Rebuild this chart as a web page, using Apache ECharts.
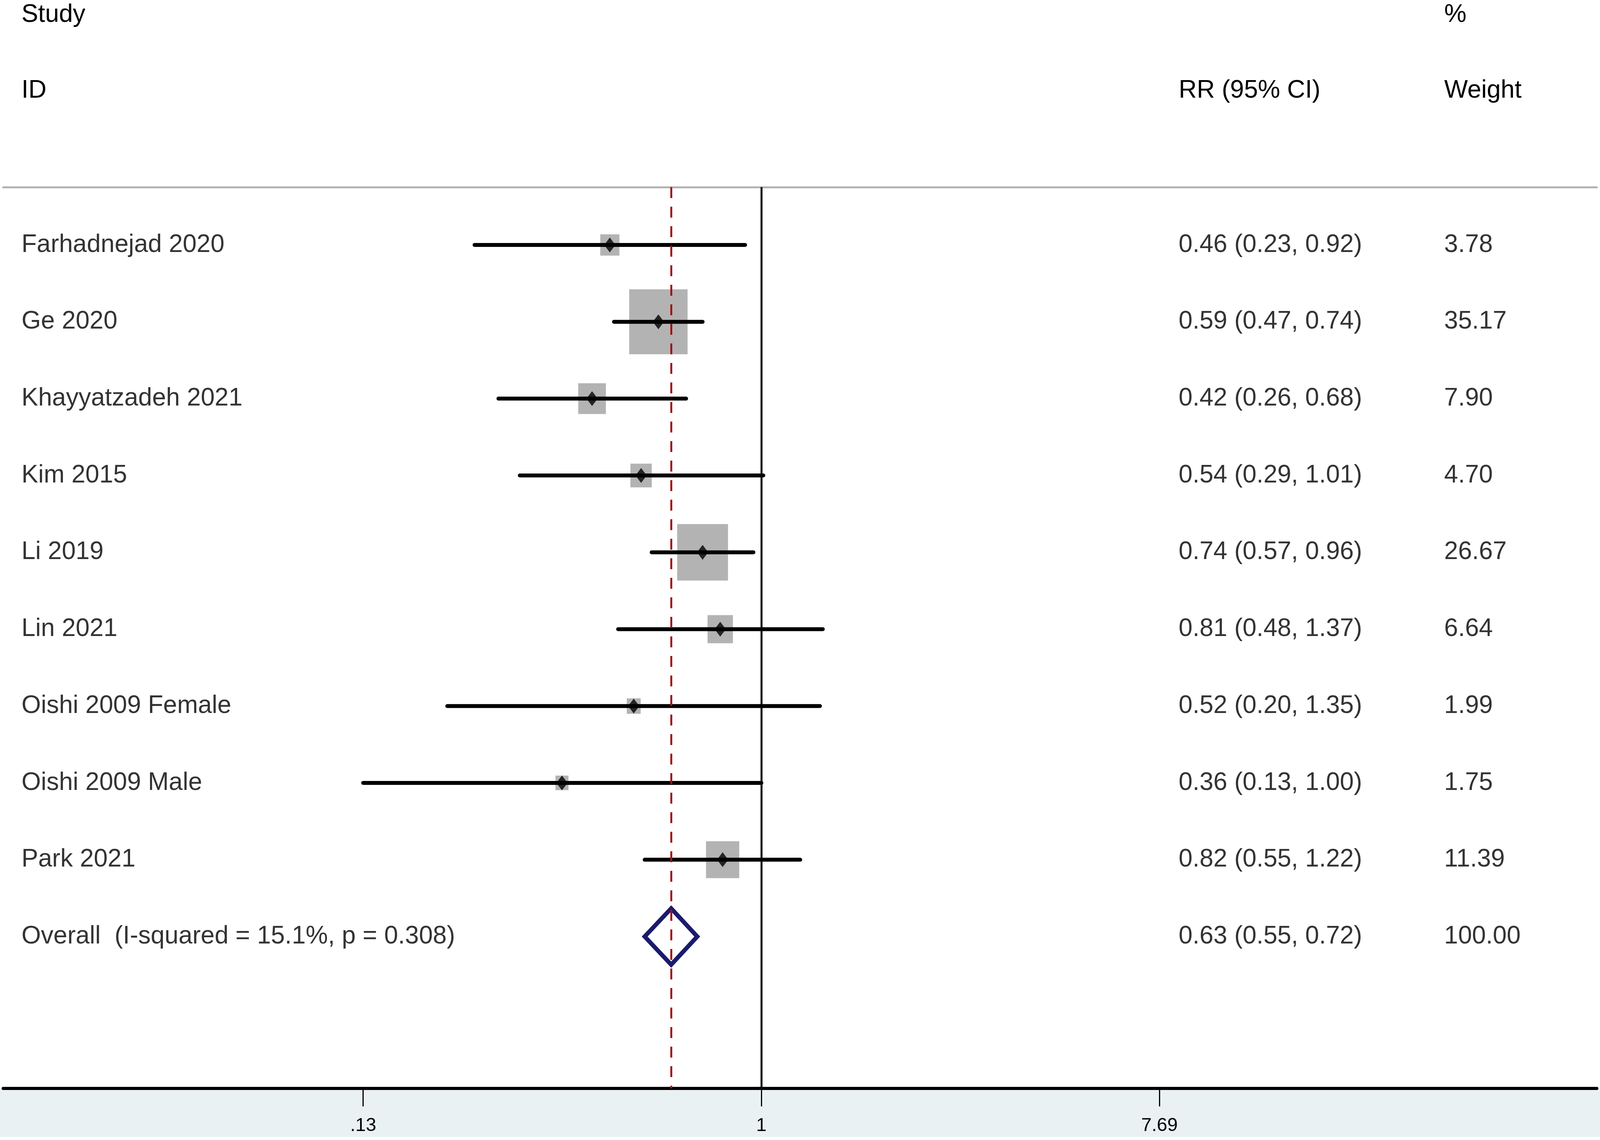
<!doctype html>
<html>
<head>
<meta charset="utf-8">
<style>
  html, body { margin: 0; padding: 0; background: #fff; overflow: hidden; }
  #main { width: 100vw; height: 100vh; }
</style>
</head>
<body>
<div id="main"></div>
<script src="https://cdn.jsdelivr.net/npm/echarts@6/dist/echarts.min.js"></script>
<script>
// study rows
var studies = ['Farhadnejad 2020', 'Ge 2020', 'Khayyatzadeh 2021', 'Kim 2015', 'Li 2019',
               'Lin 2021', 'Oishi 2009 Female', 'Oishi 2009 Male', 'Park 2021'];
var rr      = [0.46, 0.59, 0.42, 0.54, 0.74, 0.81, 0.52, 0.36, 0.82];
var lower   = [0.23, 0.47, 0.26, 0.29, 0.57, 0.48, 0.20, 0.13, 0.55];
var upper   = [0.92, 0.74, 0.68, 1.01, 0.96, 1.37, 1.35, 1.00, 1.22];
var weights = [3.78, 35.17, 7.90, 4.70, 26.67, 6.64, 1.99, 1.75, 11.39];

// pooled estimate
var overallLabel = 'Overall  (I-squared = 15.1%, p = 0.308)';
var overallRR = 0.63, overallLower = 0.55, overallUpper = 0.72;
var overallWeight = 100.00;

// axis ticks
var xTickValues = [0.13, 1, 7.69];
var xTickLabels = ['.13', '1', '7.69'];

var FONT = '"Liberation Sans", Arial, sans-serif';
var overallRow = studies.length;

// text columns on the hidden 0-100 axis
var colStudy = 1.15, colRR = 73.76, colWeight = 90.42;

function ciText(e, l, u) {
  return e.toFixed(2) + ' (' + l.toFixed(2) + ', ' + u.toFixed(2) + ')';
}

var textData = [];
studies.forEach(function (s, i) {
  textData.push({ name: s, value: [colStudy, i] });
  textData.push({ name: ciText(rr[i], lower[i], upper[i]), value: [colRR, i] });
  textData.push({ name: weights[i].toFixed(2), value: [colWeight, i] });
});
textData.push({ name: overallLabel, value: [colStudy, overallRow] });
textData.push({ name: ciText(overallRR, overallLower, overallUpper), value: [colRR, overallRow] });
textData.push({ name: overallWeight.toFixed(2), value: [colWeight, overallRow] });

function tickLabel(v) {
  for (var i = 0; i < xTickValues.length; i++) {
    if (Math.abs(v - xTickValues[i]) < 1e-6 * Math.max(1, v)) return xTickLabels[i];
  }
  return '';
}

var chart = echarts.init(document.getElementById('main'));

function build() {
  var W = chart.getWidth();
  var s = W / 4550;            // layout was measured on a 4550 wide figure
  var fs = Math.round(71 * s);

  var hdr = function (text, x, y) {
    return { type: 'text', x: x * s, y: y, style: { text: text, font: fs + 'px ' + FONT, fill: '#000', align: 'left', verticalAlign: 'middle' } };
  };

  return {
    animation: false,
    backgroundColor: '#fff',
    textStyle: { fontFamily: FONT },
    grid: { left: 9 * s, right: 9 * s, top: 479, bottom: 132, containLabel: false },
    xAxis: [{
      type: 'log',
      logBase: 10,
      min: 0.02055,
      max: 72.3,
      position: 'bottom',
      axisLine: { show: true, onZero: false, lineStyle: { color: '#000', width: 8 } },
      axisTick: { show: true, customValues: xTickValues, length: 46, lineStyle: { color: '#000', width: 3 } },
      axisLabel: {
        show: true, customValues: xTickValues, margin: 72,
        fontSize: Math.round(53 * s), fontFamily: FONT, color: '#000',
        formatter: tickLabel
      },
      splitLine: { show: false },
      minorTick: { show: false },
      minorSplitLine: { show: false }
    }, {
      type: 'value',
      min: 0,
      max: 100,
      position: 'top',
      axisLine: { show: true, onZero: false, lineStyle: { color: '#b3b3b3', width: 5 } },
      axisTick: { show: false },
      axisLabel: { show: false },
      splitLine: { show: false }
    }],
    yAxis: {
      type: 'value',
      inverse: true,
      min: -0.752,
      max: 10.976,
      show: false
    },
    graphic: [
      { type: 'rect', z: -10, left: 0, top: 2786, shape: { width: W, height: 124 }, style: { fill: '#e9f1f3' } },
      hdr('Study', 61, 38),
      hdr('ID', 61, 232),
      hdr('RR (95% CI)', 3352, 232),
      hdr('%', 4107, 38),
      hdr('Weight', 4107, 232)
    ],
    series: [
      {
        // reference lines: null effect and pooled estimate
        type: 'scatter',
        xAxisIndex: 0,
        data: [],
        silent: true,
        z: 1,
        markLine: {
          silent: true,
          symbol: ['none', 'none'],
          label: { show: false },
          animation: false,
          data: [
            { xAxis: 1, lineStyle: { color: '#000', width: 5, type: 'solid' } },
            { xAxis: overallRR, lineStyle: { color: '#a01414', width: 5, type: [28, 22] } }
          ]
        }
      },
      {
        // weight boxes, area proportional to weight
        type: 'scatter',
        xAxisIndex: 0,
        silent: true,
        z: 2,
        symbol: 'rect',
        symbolSize: function (d) { var a = 28 * Math.sqrt(d[2]); return [a * s, a]; },
        itemStyle: { color: '#b3b3b3', opacity: 1 },
        data: rr.map(function (v, i) { return [v, i, weights[i]]; })
      },
      {
        // confidence intervals
        type: 'custom',
        xAxisIndex: 0,
        silent: true,
        z: 3,
        encode: { x: [0, 1], y: 2 },
        data: lower.map(function (l, i) { return [l, upper[i], i]; }),
        renderItem: function (params, api) {
          var y = api.value(2);
          var a = api.coord([api.value(0), y]);
          var b = api.coord([api.value(1), y]);
          return {
            type: 'line',
            shape: { x1: a[0], y1: a[1], x2: b[0], y2: b[1] },
            style: { stroke: '#000', lineWidth: 10, lineCap: 'round' }
          };
        }
      },
      {
        // point estimates
        type: 'scatter',
        xAxisIndex: 0,
        silent: true,
        z: 4,
        symbol: 'diamond',
        symbolSize: [32 * s, 38],
        itemStyle: { color: '#000' },
        data: rr.map(function (v, i) { return [v, i]; })
      },
      {
        // pooled diamond
        type: 'custom',
        xAxisIndex: 0,
        silent: true,
        z: 4,
        encode: { x: [0, 1, 2], y: 3 },
        data: [[overallLower, overallRR, overallUpper, overallRow]],
        renderItem: function (params, api) {
          var y = api.value(3);
          var l = api.coord([api.value(0), y]);
          var c = api.coord([api.value(1), y]);
          var r = api.coord([api.value(2), y]);
          var h = 72;
          return {
            type: 'polygon',
            shape: { points: [l, [c[0], c[1] - h], r, [c[0], c[1] + h]] },
            style: { fill: 'none', stroke: '#1b1b6e', lineWidth: 11, lineJoin: 'miter' }
          };
        }
      },
      {
        // table text
        type: 'scatter',
        xAxisIndex: 1,
        silent: true,
        z: 5,
        symbolSize: 0,
        itemStyle: { color: 'transparent' },
        label: {
          show: true,
          position: 'right',
          distance: 0,
          formatter: '{b}',
          fontSize: fs,
          fontFamily: FONT,
          color: '#000'
        },
        data: textData
      }
    ]
  };
}

chart.setOption(build());

window.onresize = function () {
  chart.resize();
  chart.setOption(build());
};
</script>
</body>
</html>
